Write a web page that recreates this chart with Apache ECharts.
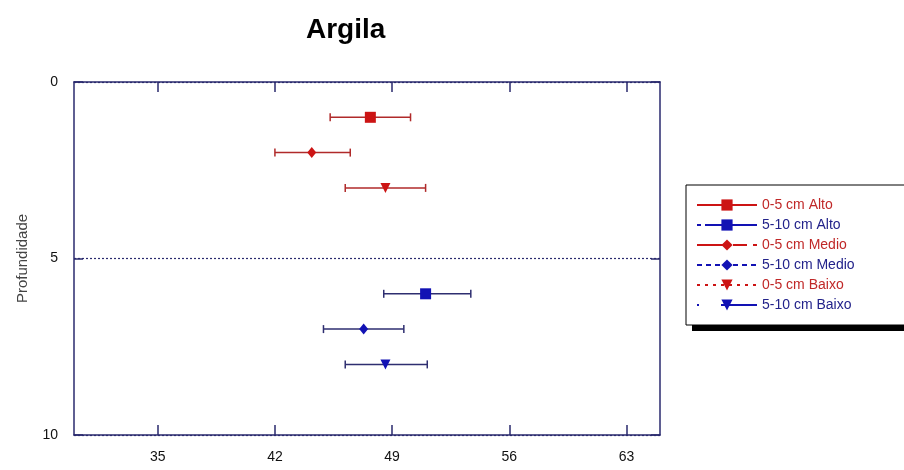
<!DOCTYPE html>
<html>
<head>
<meta charset="utf-8">
<script src="https://cdn.jsdelivr.net/npm/echarts@6/dist/echarts.min.js"></script>
<style>
  html, body { margin: 0; padding: 0; background: #ffffff; }
  #chart { width: 904px; height: 470px; }
</style>
</head>
<body>
<div id="chart"></div>
<script>
// Clay content (Argila) by depth class and slope position: mean with interval
const groups = ['0-5 cm Alto', '5-10 cm Alto', '0-5 cm Medio', '5-10 cm Medio', '0-5 cm Baixo', '5-10 cm Baixo'];
const depth  = [1, 6, 2, 7, 3, 8];
const mean   = [47.7, 51.0, 44.2, 47.3, 48.6, 48.6];
const lower  = [45.3, 48.5, 42.0, 44.9, 46.2, 46.2];
const upper  = [50.1, 53.7, 46.5, 49.7, 51.0, 51.1];
const xTicks = [35, 42, 49, 56, 63];
const yTicks = [0, 5, 10];

const FONT = 'Liberation Sans, Arial, sans-serif';
const AXIS = '#2a2a6e';
const markerColor = ['#cc1414', '#1212b4'];
const barColor    = ['#b02a2a', '#2e2e70'];
const textColor   = ['#c02828', '#22228a'];
const symbols  = ['rect', 'rect', 'diamond', 'diamond', 'triangle', 'triangle'];
const symSizes = [11, 11, [9, 11], [9, 11], 10, 10];
const dashes   = ['solid', [4, 4, 60, 0], [30, 6, 14, 6], [5, 4], [3, 5], [2, 22, 60, 0]];

const chart = echarts.init(document.getElementById('chart'), null, { renderer: 'canvas' });

const markerSeries = groups.map((name, i) => ({
  name: name,
  type: 'line',
  xAxisIndex: 0,
  yAxisIndex: 0,
  data: [[mean[i], depth[i]]],
  symbol: symbols[i],
  symbolSize: symSizes[i],
  symbolRotate: symbols[i] === 'triangle' ? 180 : 0,
  itemStyle: { color: markerColor[i % 2] },
  lineStyle: { color: markerColor[i % 2], width: 1.5, type: dashes[i] },
  z: 4,
  silent: true
}));

// horizontal interval bars with end caps
const errorSeries = {
  type: 'custom',
  name: 'intervalo',
  xAxisIndex: 0,
  yAxisIndex: 0,
  z: 3,
  silent: true,
  data: groups.map((g, i) => [lower[i], upper[i], depth[i], i]),
  encode: { x: [0, 1], y: 2 },
  renderItem: function (params, api) {
    const lo = api.coord([api.value(0), api.value(2)]);
    const hi = api.coord([api.value(1), api.value(2)]);
    const col = barColor[api.value(3) % 2];
    const cap = 4;
    const st = { stroke: col, lineWidth: 1.5 };
    return {
      type: 'group',
      children: [
        { type: 'line', shape: { x1: lo[0], y1: lo[1], x2: hi[0], y2: hi[1] }, style: st },
        { type: 'line', shape: { x1: lo[0], y1: lo[1] - cap, x2: lo[0], y2: lo[1] + cap }, style: st },
        { type: 'line', shape: { x1: hi[0], y1: hi[1] - cap, x2: hi[0], y2: hi[1] + cap }, style: st }
      ]
    };
  }
};

const axisLine = { show: true, onZero: false, lineStyle: { color: AXIS, width: 1.5 } };
const tickStyle = { color: AXIS, width: 1.5 };

const option = {
  animation: false,
  backgroundColor: '#ffffff',
  title: {
    text: 'Argila',
    left: 306,
    top: 16,
    padding: 0,
    textStyle: { fontFamily: FONT, fontSize: 28, fontWeight: 'bold', color: '#000' }
  },
  // solid drop shadow behind the legend box
  graphic: [{
    type: 'rect',
    z: 0,
    silent: true,
    shape: { x: 692, y: 191, width: 230, height: 140 },
    style: { fill: '#000000' }
  }],
  legend: {
    orient: 'vertical',
    left: 686,
    top: 185,
    z: 5,
    padding: [13, 60, 13, 10],
    itemGap: 6,
    itemWidth: 60,
    itemHeight: 14,
    backgroundColor: '#ffffff',
    borderColor: '#000000',
    borderWidth: 1,
    textStyle: { fontFamily: FONT, fontSize: 14 },
    data: groups.map((name, i) => ({ name: name, textStyle: { color: textColor[i % 2] } }))
  },
  grid: { left: 74, right: 244, top: 82, bottom: 35, containLabel: false },
  xAxis: [
    {
      type: 'value', position: 'bottom', min: 30, max: 65,
      axisLine: axisLine,
      axisTick: { show: true, inside: true, length: 10, customValues: xTicks, lineStyle: tickStyle },
      axisLabel: { customValues: xTicks, margin: 15, color: '#111', fontFamily: FONT, fontSize: 14 },
      splitLine: { show: false }
    },
    {
      type: 'value', position: 'top', min: 30, max: 65,
      axisLine: axisLine,
      axisTick: { show: true, inside: true, length: 10, customValues: xTicks, lineStyle: tickStyle },
      axisLabel: { show: false },
      splitLine: { show: false }
    }
  ],
  yAxis: [
    {
      type: 'value', position: 'left', inverse: true, min: 0, max: 10, interval: 5,
      name: 'Profundidade', nameLocation: 'middle', nameGap: 44, nameRotate: 90,
      nameTextStyle: { fontFamily: FONT, fontSize: 15, color: '#444' },
      axisLine: axisLine,
      axisTick: { show: true, inside: true, length: 9, customValues: yTicks, lineStyle: tickStyle },
      axisLabel: { customValues: yTicks, margin: 16, color: '#111', fontFamily: FONT, fontSize: 14 },
      splitLine: { show: true, lineStyle: { color: AXIS, width: 1.2, type: [2, 2] } }
    },
    {
      type: 'value', position: 'right', inverse: true, min: 0, max: 10, interval: 5,
      axisLine: axisLine,
      axisTick: { show: true, inside: true, length: 9, customValues: yTicks, lineStyle: tickStyle },
      axisLabel: { show: false },
      splitLine: { show: false }
    }
  ],
  series: [errorSeries].concat(markerSeries)
};

chart.setOption(option);
</script>
</body>
</html>
